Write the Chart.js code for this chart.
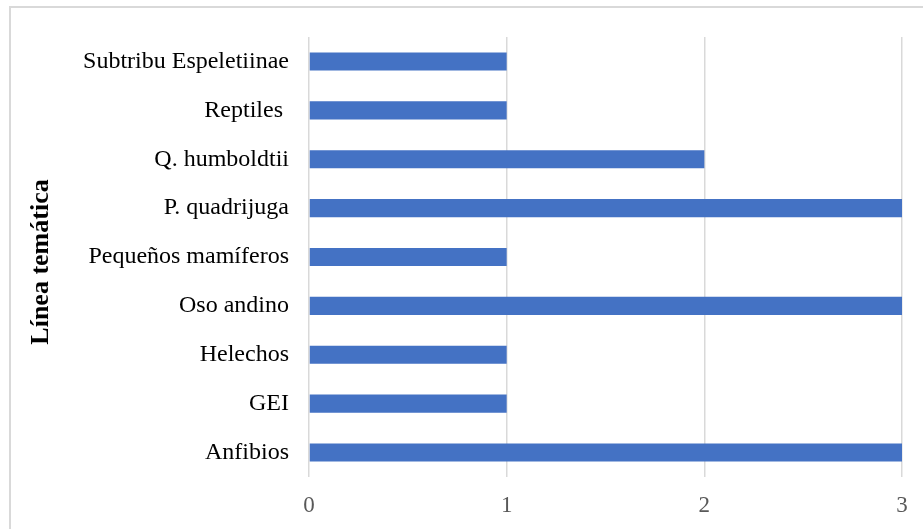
<!DOCTYPE html>
<html>
<head>
<meta charset="utf-8">
<script src="https://cdn.jsdelivr.net/npm/chart.js@4"></script>
<style>
  html, body { margin: 0; padding: 0; background: #ffffff; }
  #wrap { position: relative; width: 923px; height: 529px; overflow: hidden; }
  #frame { position: absolute; left: 9px; top: 6px; width: 940px; height: 560px;
           border-left: 2px solid #d9d9d9; border-top: 2px solid #d9d9d9; box-sizing: border-box; }
  canvas { position: absolute; left: 0; top: 0; }
</style>
</head>
<body>
<div id="wrap">
  <div id="frame"></div>
  <canvas id="chart" width="923" height="529"></canvas>
</div>
<script>
// Topics studied, listed bottom-to-top on the chart
const categories = [
  'Anfibios',
  'GEI',
  'Helechos',
  'Oso andino',
  'Pequeños mamíferos',
  'P. quadrijuga',
  'Q. humboldtii',
  'Reptiles ',
  'Subtribu Espeletiinae'
];
// Number of studies per topic
const counts = [3, 1, 1, 3, 1, 3, 2, 1, 1];
// Value-axis ticks
const xTicks = [0, 1, 2, 3];
const axisTitle = 'Línea temática';

const serif = '"Liberation Serif", "Times New Roman", serif';

// Rotated category-axis title, placed at the left edge of the frame
const sideTitle = {
  id: 'sideTitle',
  afterDraw(chart) {
    const ctx = chart.ctx;
    ctx.save();
    ctx.translate(41, 262);
    ctx.rotate(-Math.PI / 2);
    ctx.font = 'bold 26px ' + serif;
    ctx.fillStyle = '#000000';
    ctx.textAlign = 'center';
    ctx.textBaseline = 'middle';
    ctx.fillText(axisTitle, 0, 0);
    ctx.restore();
  }
};

new Chart(document.getElementById('chart'), {
  type: 'bar',
  data: {
    labels: categories,
    datasets: [{
      data: counts,
      backgroundColor: '#4472c4',
      borderWidth: 0,
      barPercentage: 0.74,
      categoryPercentage: 0.5
    }]
  },
  options: {
    indexAxis: 'y',
    responsive: false,
    animation: false,
    layout: { padding: { top: 37, right: 21, bottom: 0, left: 0 } },
    plugins: {
      legend: { display: false },
      tooltip: { enabled: false }
    },
    scales: {
      x: {
        min: xTicks[0],
        max: xTicks[xTicks.length - 1],
        afterBuildTicks: (scale) => { scale.ticks = xTicks.map(v => ({ value: v })); },
        afterFit: (scale) => { scale.height = 52; },
        grid: { color: '#d9d9d9', lineWidth: 1.5, drawTicks: false },
        border: { display: false },
        ticks: {
          padding: 15,
          color: '#595959',
          font: { family: serif, size: 23 }
        }
      },
      y: {
        reverse: true,
        afterFit: (scale) => { scale.width = 309; },
        grid: { display: false, drawTicks: false },
        border: { display: false },
        ticks: {
          padding: 20,
          color: '#000000',
          font: { family: serif, size: 24 }
        }
      }
    }
  },
  plugins: [sideTitle]
});
</script>
</body>
</html>
